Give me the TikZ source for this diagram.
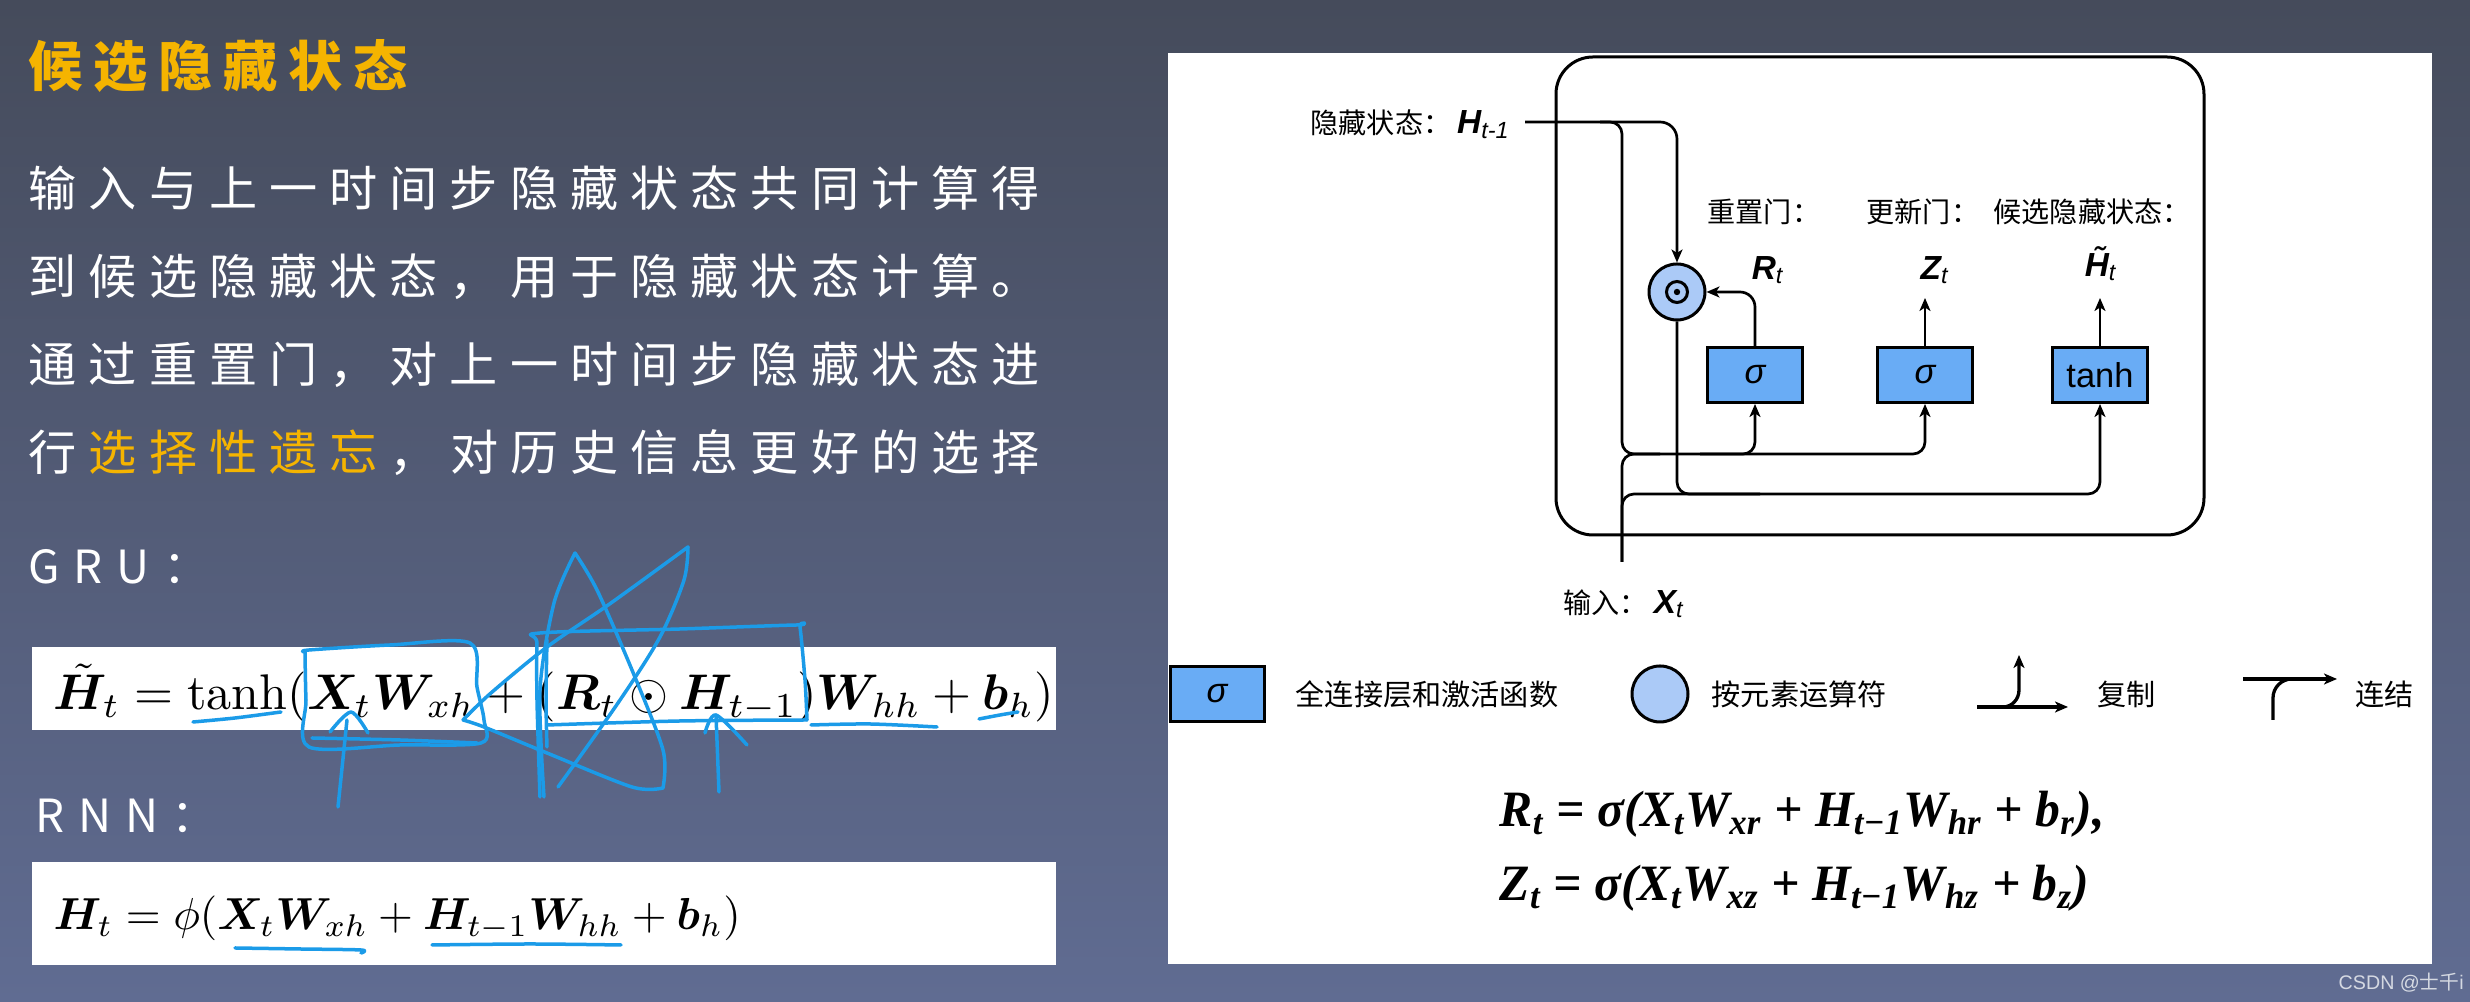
\documentclass[tikz,border=0pt]{standalone}
\usepackage{amsmath, amssymb, bm}
\usepackage{fontspec}
\usetikzlibrary{arrows.meta}
\newfontfamily\cjk{Noto Sans CJK SC}
\newfontfamily\slidecjk{Noto Sans CJK SC}[LetterSpace=25]
\newfontfamily\titlecjk{Noto Sans CJK SC}[LetterSpace=20]
\newfontfamily\slidelat{Noto Sans CJK SC}[LetterSpace=30]
\newfontfamily\lab{Liberation Sans}
\newfontfamily\eqfont{Liberation Serif}
\definecolor{bgtop}{HTML}{454B5B}
\definecolor{bgbot}{HTML}{606C92}
\definecolor{slideorange}{HTML}{F5B400}
\definecolor{pen}{HTML}{1B9BE8}
\definecolor{layerblue}{HTML}{69ACF5}
\definecolor{opblue}{HTML}{ABCAF7}
\definecolor{wmgray}{HTML}{D5D9E2}

\begin{document}
\begin{tikzpicture}[
    x=0.1mm,
    y=-0.1mm,
    every node/.style={inner sep=0pt},
    slide/.style={anchor=west, text=white, font=\slidecjk\fontsize{13.7pt}{16pt}\selectfont},
    pen/.style={draw=pen, line width=0.35mm, line cap=round, line join=round},
    wire/.style={line width=0.27mm},
    layer/.style={draw, fill=layerblue, line width=0.3mm, minimum width=9.5mm, minimum height=5.5mm, font=\lab\fontsize{9.8pt}{11pt}\selectfont},
    op/.style={circle, draw, fill=opblue, line width=0.3mm, minimum size=5.6mm},
    gate/.style={anchor=west, font=\cjk\fontsize{8pt}{9pt}\selectfont},
    legend/.style={anchor=west, font=\cjk\fontsize{8.3pt}{10pt}\selectfont},
    var/.style={font=\lab\bfseries\itshape\fontsize{9.5pt}{11pt}\selectfont},
    >={Stealth[length=1.3mm, width=1.1mm, inset=0.35mm]}
]
    \useasboundingbox (0,0) rectangle (2470,1002);
    \shade[top color=bgtop, bottom color=bgbot] (0,0) rectangle (2470,1002);

    % left half of the slide
    \node[anchor=west, text=slideorange, font=\titlecjk\bfseries\fontsize{15.4pt}{18pt}\selectfont] (title) at (28,66) {候选隐藏状态};
    \node[slide] (line1) at (28,188) {输入与上一时间步隐藏状态共同计算得};
    \node[slide] (line2) at (28,277) {到候选隐藏状态，用于隐藏状态计算。};
    \node[slide] (line3) at (28,365) {通过重置门，对上一时间步隐藏状态进};
    \node[slide] (line4) at (28,453) {行\hspace{0.25em}\textcolor{slideorange}{选择性遗忘}\hspace{0.25em}，对历史信息更好的选择};
    \node[slide, font=\slidelat\fontsize{13pt}{16pt}\selectfont] (grulab) at (28,567) {GRU：};
    \node[slide, font=\slidelat\fontsize{13pt}{16pt}\selectfont] (rnnlab) at (35,816) {RNN：};

    \fill[white] (32,647) rectangle (1056,730);
    \fill[white] (32,862) rectangle (1056,965);
    \node[anchor=base west] (grueq) at (53,710) {\resizebox{100mm}{!}{$\tilde{\boldsymbol H}_t = \tanh(\boldsymbol X_t \boldsymbol W_{xh} + (\boldsymbol R_t \odot \boldsymbol H_{t-1})\boldsymbol W_{hh} + \boldsymbol b_h)$}};
    \node[anchor=base west] (rnneq) at (53,930) {\resizebox{68.7mm}{!}{$\boldsymbol H_t = \phi(\boldsymbol X_t \boldsymbol W_{xh} + \boldsymbol H_{t-1}\boldsymbol W_{hh} + \boldsymbol b_h)$}};

    % pen marks
    \draw[pen] plot[smooth] coordinates {(193,722) (235,718) (281,712)};
    \draw[pen] plot[smooth] coordinates {(305,652) (309,650) (390,645) (470,643) (477,687) (484,720) (481,743) (400,745) (309,747) (306,700) (305,652)};
    \draw[pen] plot[smooth] coordinates {(312,738) (400,740) (477,743)};
    \draw[pen] (338,807) -- (347,720);
    \draw[pen] plot[smooth] coordinates {(330,732) (351,712) (368,733)};
    \draw[pen] plot[smooth] coordinates {(544,797) (540,690) (554,603) (575,553)};
    \draw[pen] plot[smooth] coordinates {(575,553) (597,590) (632,670) (663,750) (663,788)};
    \draw[pen] plot[smooth] coordinates {(663,788) (632,787) (547,753) (484,727) (463,720)};
    \draw[pen] plot[smooth] coordinates {(463,720) (491,693) (547,647) (611,603) (688,547)};
    \draw[pen] plot[smooth] coordinates {(688,547) (684,580) (660,637) (618,703) (558,787)};
    \draw[pen] plot[smooth] coordinates {(540,797) (537,700) (537,643) (540,633) (680,629) (797,625) (800,627) (805,680) (807,720)};
    \draw[pen] plot[smooth] coordinates {(547,640) (546,700) (547,747)};
    \draw[pen] plot[smooth] coordinates {(547,725) (680,721) (807,720)};
    \draw[pen] (719,792) -- (716,715);
    \draw[pen] plot[smooth] coordinates {(705,733) (716,715) (747,745)};
    \draw[pen] plot[smooth] coordinates {(811,725) (870,724) (937,727)};
    \draw[pen] plot[smooth] coordinates {(979,719) (1000,715) (1018,712)};
    \draw[pen] plot[smooth] coordinates {(235,948) (300,949) (361,950) (361,953)};
    \draw[pen] plot[smooth] coordinates {(432,945) (530,944) (621,945)};

    % right half: GRU cell
    \fill[white] (1168,53) rectangle (2432,964);
    \draw[line width=0.3mm, rounded corners=3.7mm] (1556,57) rectangle (2204,535);

    \node[layer] (sigr) at (1755,375) {\itshape σ};
    \node[layer] (sigz) at (1925,375) {\itshape σ};
    \node[layer] (cand) at (2100,375) {tanh};
    \node[op] (had) at (1677,292) {};
    \draw[line width=0.3mm] (had.center) circle (1.05mm);
    \fill (had.center) circle (0.32mm);

    \node[var] (rlab) at (1768,270) {R\textsubscript{\mdseries t}};
    \node[var] (zlab) at (1935,270) {Z\textsubscript{\mdseries t}};
    \node[var] (hlab) at (2101,264) {\~{H}\textsubscript{\mdseries t}};
    \node[gate] (gr) at (1707,212) {重置门：};
    \node[gate] (gz) at (1866,212) {更新门：};
    \node[gate] (gh) at (1993,212) {候选隐藏状态：};

    \coordinate (hin) at (1525,122);
    \node[anchor=east] (hprev) at (1511,124) {{\cjk\fontsize{8pt}{9pt}\selectfont 隐藏状态：}\,{\lab\bfseries\itshape\fontsize{9.5pt}{11pt}\selectfont H\textsubscript{\mdseries t-1}}};
    \coordinate (xbot) at (1622,562);
    \node[anchor=west] (xlab) at (1563,604) {{\cjk\fontsize{8pt}{9pt}\selectfont 输入：}\,{\lab\bfseries\itshape\fontsize{9.5pt}{11pt}\selectfont X\textsubscript{\mdseries t}}};
    \coordinate (zout) at (1925,298);
    \coordinate (hout) at (2100,298);

    \draw[wire, ->, rounded corners=1.7mm] (hin) -| (had.north);
    \draw[wire, ->, rounded corners=1.2mm] (1600,122) -| (1622,454) -| (sigr.south);
    \draw[wire, ->, rounded corners=1.2mm] (1700,454) -| (sigz.south);
    \draw[wire, rounded corners=1.2mm] (xbot) |- (1660,454);
    \draw[wire, ->, rounded corners=1.2mm] (xbot) |- (1700,494) -| (cand.south);
    \draw[wire, rounded corners=1.2mm] (had.south) |- (1760,494);
    \draw[wire, ->, rounded corners=1.5mm] (sigr.north) |- (had.east);
    \draw[wire, ->] (sigz.north) -- (zout);
    \draw[wire, ->] (cand.north) -- (hout);

    % legend
    \node[layer, minimum width=9.4mm] (lgsig) at (1217,694) {\itshape σ};
    \node[legend] (lgsigtxt) at (1295,694) {全连接层和激活函数};
    \node[op] (lgop) at (1660,694) {};
    \node[legend] (lgoptxt) at (1711,694) {按元素运算符};
    \coordinate (cpa) at (1977,707);
    \coordinate (cpb) at (2068,707);
    \coordinate (cpc) at (2019,655);
    \draw[wire, line width=0.33mm, ->] (cpa) -- (cpb);
    \draw[wire, line width=0.33mm, ->] (2003,707) to[out=0, in=-90] (2019,690) -- (cpc);
    \node[legend] (cptxt) at (2097,694) {复制};
    \coordinate (cca) at (2243,679);
    \coordinate (ccb) at (2337,679);
    \coordinate (ccc) at (2273,720);
    \draw[wire, line width=0.33mm, ->] (cca) -- (ccb);
    \draw[wire, line width=0.33mm] (ccc) -- (2273,698) to[out=90, in=180] (2292,679);
    \node[legend] (cctxt) at (2355,694) {连结};

    \node[anchor=base west, font=\eqfont\bfseries\itshape\fontsize{14.5pt}{17pt}\selectfont] (eqr) at (1499,827) {\scalebox{0.975}[1]{R\textsubscript{t} = σ(X\textsubscript{t}W\textsubscript{xr} + H\textsubscript{t−1}W\textsubscript{hr} + b\textsubscript{r}),}};
    \node[anchor=base west, font=\eqfont\bfseries\itshape\fontsize{14.5pt}{17pt}\selectfont] (eqz) at (1499,901) {\scalebox{0.975}[1]{Z\textsubscript{t} = σ(X\textsubscript{t}W\textsubscript{xz} + H\textsubscript{t−1}W\textsubscript{hz} + b\textsubscript{z})}};

    \node[anchor=west, text=wmgray, font=\lab\fontsize{5.6pt}{7pt}\selectfont] (wm) at (2338,983) {CSDN @{\cjk 士千}i};
\end{tikzpicture}
\end{document}
